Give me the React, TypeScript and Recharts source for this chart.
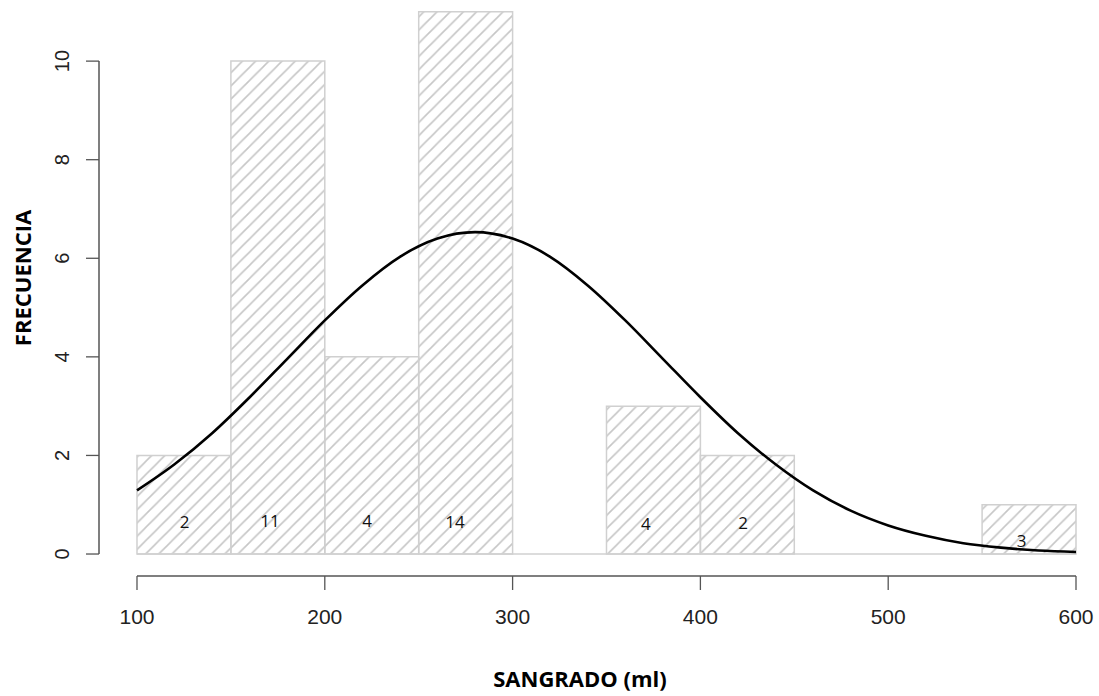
import React from "react";
import {
  ComposedChart,
  XAxis,
  YAxis,
  Line,
  Scatter,
  ReferenceArea,
  ReferenceLine,
  Label,
} from "recharts";

// Histogram bins (SANGRADO ml)
const binStarts = [100, 150, 200, 250, 300, 350, 400, 450, 500, 550];
const binWidth = 50;
const binCounts = [2, 10, 4, 11, 0, 3, 2, 0, 0, 1];

// Normal curve
const curveX = [100, 120, 140, 160, 180, 200, 220, 240, 260, 280, 300, 320, 340, 360, 380, 400, 420, 440, 460, 480, 500, 520, 540, 560, 580, 600];
const curveY = [1.29, 1.82, 2.45, 3.18, 3.96, 4.74, 5.45, 6.03, 6.4, 6.53, 6.4, 6.03, 5.45, 4.74, 3.96, 3.18, 2.45, 1.82, 1.29, 0.88, 0.58, 0.37, 0.22, 0.13, 0.07, 0.04];

// Text annotations inside bars
const labelText = ["2", "11", "4", "14", "4", "2", "3"];
const labelX = [125.3, 170.8, 222.5, 269.3, 370.9, 422.7, 571];
const labelY = [0.65, 0.69, 0.69, 0.65, 0.61, 0.63, 0.28];

const xTicks = [100, 200, 300, 400, 500, 600];
const yTicks = [0, 2, 4, 6, 8, 10];

const xDomain: [number, number] = [79.77, 600];
const yDomain: [number, number] = [-0.446, 11.24];

const curveData = curveX.map((x, i) => ({ x, y: curveY[i] }));
const labelData = labelX.map((x, i) => ({ x, y: labelY[i], label: labelText[i] }));

const AXIS_COLOR = "#555";
const TICK_FONT = "'Liberation Sans', Arial, sans-serif";
const TITLE_FONT = "'Open Sans', 'Liberation Sans', sans-serif";
const HATCH = 13.2;

const YTick = (props: any) => {
  const { x, y, payload } = props;
  const cx = x - 22;
  return (
    <text
      x={cx}
      y={y}
      transform={`rotate(-90 ${cx} ${y})`}
      textAnchor="middle"
      dominantBaseline="central"
      fontFamily={TICK_FONT}
      fontSize={20}
      fill="#222"
    >
      {payload.value}
    </text>
  );
};

const XTick = (props: any) => {
  const { x, y, payload } = props;
  return (
    <text
      x={x}
      y={y + 24}
      textAnchor="middle"
      dominantBaseline="central"
      fontFamily={TICK_FONT}
      fontSize={21}
      fill="#222"
    >
      {payload.value}
    </text>
  );
};

const LabelShape = (props: any) => {
  const { cx, cy, payload } = props;
  return (
    <text
      x={cx}
      y={cy}
      textAnchor="middle"
      dominantBaseline="central"
      fontFamily={TITLE_FONT}
      fontSize={17}
      fill="#111"
    >
      {payload.label}
    </text>
  );
};

export default function App() {
  return (
    <div style={{ position: "absolute", left: 0, top: 0, width: 1099, height: 696 }}>
      <ComposedChart
        width={1099}
        height={696}
        data={curveData}
        margin={{ top: 0, right: 23, bottom: 0, left: 0 }}
      >
        <defs>
          <pattern id="hatch" patternUnits="userSpaceOnUse" width={HATCH} height={HATCH}>
            <path
              d={`M0,${HATCH} L${HATCH},0 M-2,2 L2,-2 M${HATCH - 2},${HATCH + 2} L${HATCH + 2},${HATCH - 2}`}
              stroke="#c6c6c6"
              strokeWidth={1.6}
            />
          </pattern>
        </defs>
        <XAxis
          type="number"
          dataKey="x"
          domain={xDomain}
          ticks={xTicks}
          allowDataOverflow
          axisLine={false}
          tickSize={14}
          tickLine={{ stroke: AXIS_COLOR, strokeWidth: 1.3 }}
          tick={<XTick />}
          height={120}
        >
          <Label
            content={(p: any) => {
              const vb = p.viewBox || { x: 99, y: 576, width: 977, height: 120 };
              return (
                <text
                  x={580}
                  y={vb.y + 102}
                  textAnchor="middle"
                  dominantBaseline="central"
                  fontFamily={TITLE_FONT}
                  fontWeight="bold"
                  fontSize={22}
                  fill="#000"
                >
                  SANGRADO (ml)
                </text>
              );
            }}
          />
        </XAxis>
        <YAxis
          type="number"
          domain={yDomain}
          ticks={yTicks}
          allowDataOverflow
          axisLine={false}
          tickSize={13}
          tickLine={{ stroke: AXIS_COLOR, strokeWidth: 1.3 }}
          tick={<YTick />}
          width={99}
        >
          <Label
            content={() => {
              const cx = 22;
              const cy = 278;
              return (
                <text
                  x={cx}
                  y={cy}
                  transform={`rotate(-90 ${cx} ${cy})`}
                  textAnchor="middle"
                  dominantBaseline="central"
                  fontFamily={TITLE_FONT}
                  fontWeight="bold"
                  fontSize={22}
                  fill="#000"
                >
                  FRECUENCIA
                </text>
              );
            }}
          />
        </YAxis>
        {binStarts.map((b, i) =>
          binCounts[i] > 0 ? (
            <ReferenceArea
              key={b}
              x1={b}
              x2={b + binWidth}
              y1={0}
              y2={binCounts[i]}
              fill="url(#hatch)"
              fillOpacity={1}
              stroke="#d0d0d0"
              strokeWidth={1.5}
              ifOverflow="visible"
            />
          ) : null
        )}
        <ReferenceLine
          segment={[
            { x: 100, y: 0 },
            { x: 600, y: 0 },
          ]}
          stroke="#d0d0d0"
          strokeWidth={1.3}
          ifOverflow="visible"
        />
        <ReferenceLine
          segment={[
            { x: 100, y: yDomain[0] },
            { x: 600, y: yDomain[0] },
          ]}
          stroke={AXIS_COLOR}
          strokeWidth={1.5}
          ifOverflow="visible"
        />
        <ReferenceLine
          segment={[
            { x: xDomain[0], y: 0 },
            { x: xDomain[0], y: 10 },
          ]}
          stroke={AXIS_COLOR}
          strokeWidth={1.5}
          ifOverflow="visible"
        />
        <Line
          type="monotone"
          dataKey="y"
          stroke="#000"
          strokeWidth={2.6}
          dot={false}
          activeDot={false}
          isAnimationActive={false}
        />
        <Scatter
          data={labelData}
          dataKey="y"
          shape={<LabelShape />}
          isAnimationActive={false}
        />
      </ComposedChart>
    </div>
  );
}
